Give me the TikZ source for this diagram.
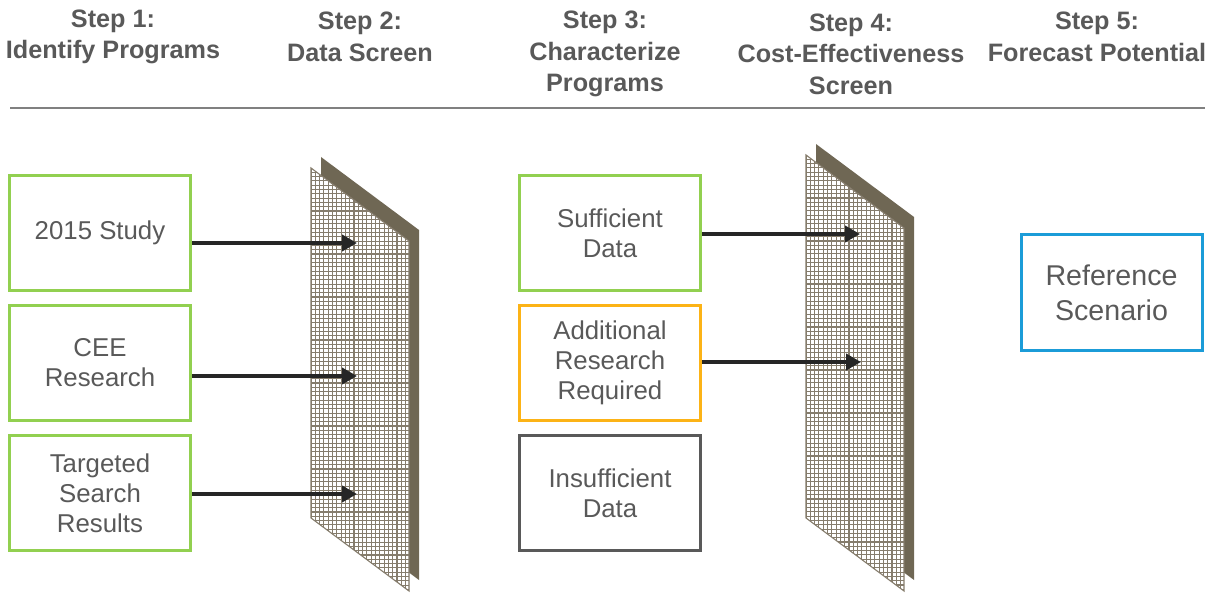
\documentclass[tikz,border=0pt]{standalone}
\usepackage{fontspec}
\setmainfont{Liberation Sans}
\usetikzlibrary{arrows.meta,positioning}
\definecolor{txtgray}{HTML}{595959}
\definecolor{progreen}{HTML}{92D050}
\definecolor{progorange}{HTML}{FCB316}
\definecolor{progblue}{HTML}{1B9CD8}
\definecolor{panelbrown}{HTML}{6F6754}
\definecolor{meshgray}{HTML}{857C6C}
\tikzset{
  hdr/.style={font=\bfseries\fontsize{12.6}{15.8}\selectfont,text=txtgray,align=center},
  prog/.style={draw=#1,line width=1.5pt,minimum width=90.5pt,minimum height=57.5pt,
    align=center,text=txtgray,font=\fontsize{12.9}{15}\selectfont},
  flow/.style={-{Triangle[length=7.5pt,width=8pt]},line width=2pt,draw=black!85},
  panel/.style={fill=panelbrown},
  meshline/.style={draw=meshgray,line width=0.55pt},
  rule/.style={draw=black!50,line width=0.75pt}
}
\begin{document}
\begin{tikzpicture}[x=0.5pt,y=-0.5pt]
\useasboundingbox (0,0) rectangle (1215,593);
% column headers
\node[hdr] (h1) at (113,37) {Step 1:\\Identify Programs};
\node[hdr] (h2) at (360,37) {Step 2:\\Data Screen};
\node[hdr] (h3) at (605,54) {Step 3:\\Characterize\\Programs};
\node[hdr] (h4) at (851,54) {Step 4:\\Cost-Effectiveness\\Screen};
\node[hdr] (h5) at (1097,37) {Step 5:\\Forecast Potential};
\draw[rule] (10,108) -- (1205,108);
% screens
\foreach \xl/\yt/\h in {311/168/350,806/155/363}{
  \fill[panel] (\xl+10,\yt-11) -- ++(98,73) -- ++(0,\h) -- ++(-98,-73) -- cycle;
  \begin{scope}
    \clip (\xl,\yt) -- ++(98,73) -- ++(0,\h) -- ++(-98,-73) -- cycle;
    \fill[white] (\xl,\yt) rectangle ++(98,\h+73);
    \foreach \i in {0,...,23} \draw[meshline] (\xl+\i*4.3,\yt) -- ++(0,\h+73);
    \foreach \j in {0,...,101} \draw[meshline] (\xl,\yt+\j*4.3) -- ++(98,0);
  \end{scope}
  \draw[meshline] (\xl,\yt) -- ++(98,73) -- ++(0,\h) -- ++(-98,-73) -- cycle;
}
% step 1 programs
\node[prog=progreen] (b1) at (100,233) {2015 Study};
\node[prog=progreen,below=6pt of b1] (b2) {CEE\\Research};
\node[prog=progreen,below=6pt of b2] (b3) {Targeted\\Search\\Results};
% step 3 programs
\node[prog=progreen] (s1) at (610,233) {Sufficient\\Data};
\node[prog=progorange,below=6pt of s1] (s2) {Additional\\Research\\Required};
\node[prog=txtgray,below=6pt of s2] (s3) {Insufficient\\Data};
% step 5
\node[prog=progblue,font=\fontsize{14.3}{17.5}\selectfont] (r1) at (1111.5,292.5) {Reference\\Scenario};
% arrows into the screens
\coordinate (t1) at (357,243);
\coordinate (t2) at (357,376);
\coordinate (t3) at (357,494);
\coordinate (t4) at (860,234);
\coordinate (t5) at (861,362);
\draw[flow] (b1.east |- t1) -- (t1);
\draw[flow] (b2.east |- t2) -- (t2);
\draw[flow] (b3.east |- t3) -- (t3);
\draw[flow] (s1.east |- t4) -- (t4);
\draw[flow] (s2.east |- t5) -- (t5);
\end{tikzpicture}
\end{document}
